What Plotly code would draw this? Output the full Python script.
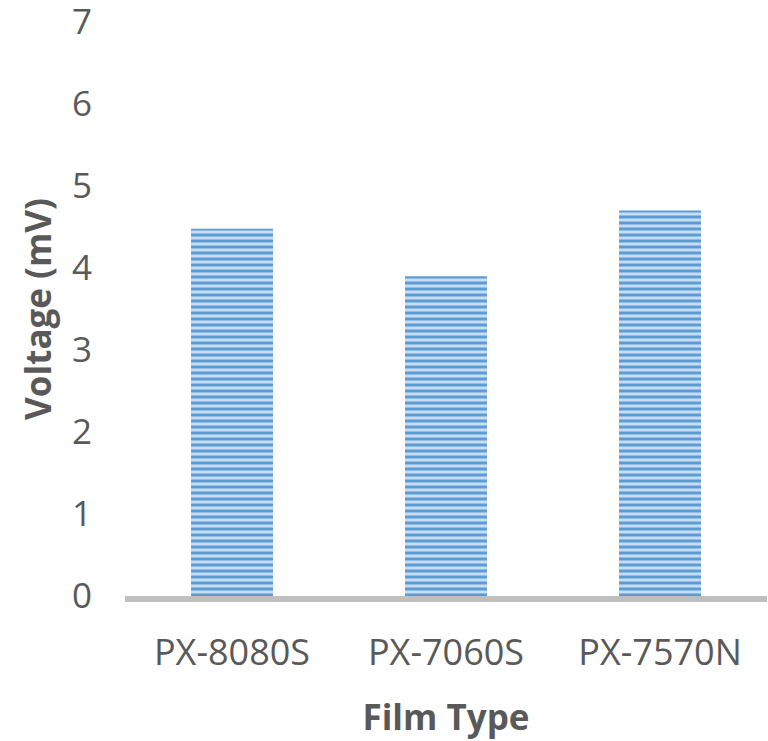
import plotly.graph_objects as go

categories = ["PX-8080S", "PX-7060S", "PX-7570N"]
voltage_mv = [4.48, 3.9, 4.7]
y_ticks = [0, 1, 2, 3, 4, 5, 6, 7]

fig = go.Figure()
fig.add_trace(go.Bar(
    x=categories,
    y=voltage_mv,
    width=0.383,
    marker=dict(
        color="#c9ddf1",
        line=dict(width=0),
        pattern=dict(shape="-", size=6, solidity=0.5,
                     fgcolor="#5b9bd5", bgcolor="#c9ddf1", fillmode="replace"),
    ),
))

fig.update_layout(
    width=768, height=741,
    margin=dict(l=125, r=1, t=22, b=145),
    paper_bgcolor="white", plot_bgcolor="white",
    showlegend=False,
    font=dict(family="Open Sans", color="#595959"),
)
fig.update_xaxes(
    automargin=False,
    showline=True, linecolor="#bfbfbf", linewidth=6,
    showgrid=False, zeroline=False,
    tickfont=dict(size=36, color="#595959"),
    ticks="", ticklabelstandoff=20,
    title=dict(text="<b>Film Type</b>", font=dict(size=35, color="#595959"), standoff=32),
)
fig.update_yaxes(
    automargin=False,
    range=[0, 7], tickvals=y_ticks,
    ticklabeloverflow="allow",
    showline=False, showgrid=False, zeroline=False,
    tickfont=dict(size=35, color="#595959"),
    ticks="", ticklabelstandoff=32,
    title=dict(text="<b>Voltage (mV)</b>", font=dict(size=35, color="#595959"), standoff=9),
)

fig.write_html(
    "out.html",
    config={"displayModeBar": False},
    post_script="document.body.style.margin='0';document.body.style.overflow='hidden';",
)
